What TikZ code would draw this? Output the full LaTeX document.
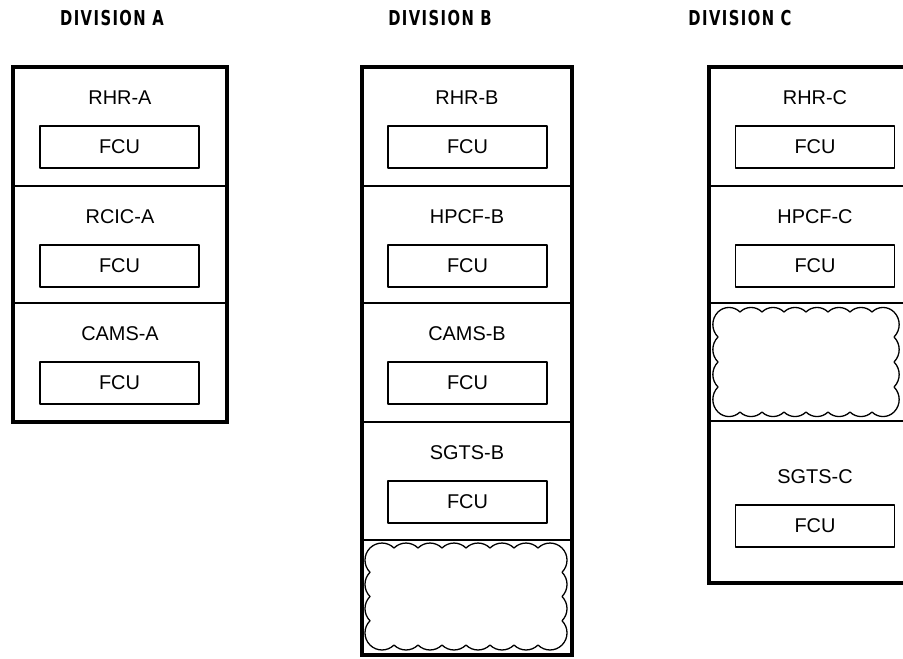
\documentclass[tikz,border=0pt]{standalone}
\usepackage{fontspec}
\setmainfont{Liberation Sans}
\newfontfamily\headfont{DejaVu Sans Condensed}[LetterSpace=7,FakeStretch=0.8]
\usetikzlibrary{positioning}
\tikzstyle{every node}=[font=\fontsize{17}{19}\selectfont]
\tikzstyle{division}=[font=\headfont\bfseries\fontsize{17.5}{19}\selectfont]
\tikzstyle{panel}=[line width=3.4pt,line cap=rect,line join=miter]
\tikzstyle{divider}=[line width=1.3pt]
\tikzstyle{fcu}=[draw,line width=1.2pt,minimum width=4.77cm,minimum height=1.26cm,inner sep=0pt]
\tikzstyle{cloud}=[line width=1.1pt]

\begin{document}
\begin{tikzpicture}[x=0.03cm,y=-0.03cm,line cap=round,line join=round]
\useasboundingbox (0,0) rectangle (903,658);
\clip (0,0) rectangle (903,658);

% headings
\node[division] (divA) at (112,18) {DIVISION A};
\node[division] (divB) at (440,18) {DIVISION B};
\node[division] (divC) at (740,18) {DIVISION C};

% division A
\foreach \y in {186,303} \draw[divider] (13,\y)--(227,\y);
\foreach \t/\sys in {67/RHR-A,186/RCIC-A,303/CAMS-A}{
  \node (sys-\sys) at (120,\t+31) {\sys};
  \node[fcu] (fcu-\sys) at (119.5,\t+80) {FCU};
}
\draw[panel] (13,67) rectangle (227,422);

% division B
\foreach \y in {186,303,422,540} \draw[divider] (362,\y)--(572,\y);
\foreach \t/\sys in {67/RHR-B,186/HPCF-B,303/CAMS-B,422/SGTS-B}{
  \node (sys-\sys) at (467,\t+31) {\sys};
  \node[fcu] (fcu-\sys) at (467.5,\t+80) {FCU};
}
\draw[cloud] (370,548)
  \foreach \k in {1,...,8}{ to[bend left=45] ++(24,0)}
  \foreach \k in {1,...,4}{ to[bend left=45] ++(0,24.25)}
  \foreach \k in {1,...,8}{ to[bend left=45] ++(-24,0)}
  \foreach \k in {1,...,4}{ to[bend left=45] ++(0,-24.25)};
\draw[panel] (362,67) rectangle (572,655);

% division C
\foreach \y in {186,303,421} \draw[divider] (709,\y)--(922,\y);
\foreach \t/\sys in {67/RHR-C,186/HPCF-C}{
  \node (sys-\sys) at (815,\t+31) {\sys};
  \node[fcu] (fcu-\sys) at (815,\t+80) {FCU};
}
\draw[cloud] (718,312)
  \foreach \k in {1,...,8}{ to[bend left=45] ++(22,0)}
  \foreach \k in {1,...,4}{ to[bend left=45] ++(0,25)}
  \foreach \k in {1,...,8}{ to[bend left=45] ++(-22,0)}
  \foreach \k in {1,...,4}{ to[bend left=45] ++(0,-25)};
\node (sys-SGTS-C) at (815,477) {SGTS-C};
\node[fcu] (fcu-SGTS-C) at (815,526) {FCU};
\draw[panel] (709,67) rectangle (922,583);
\end{tikzpicture}
\end{document}
